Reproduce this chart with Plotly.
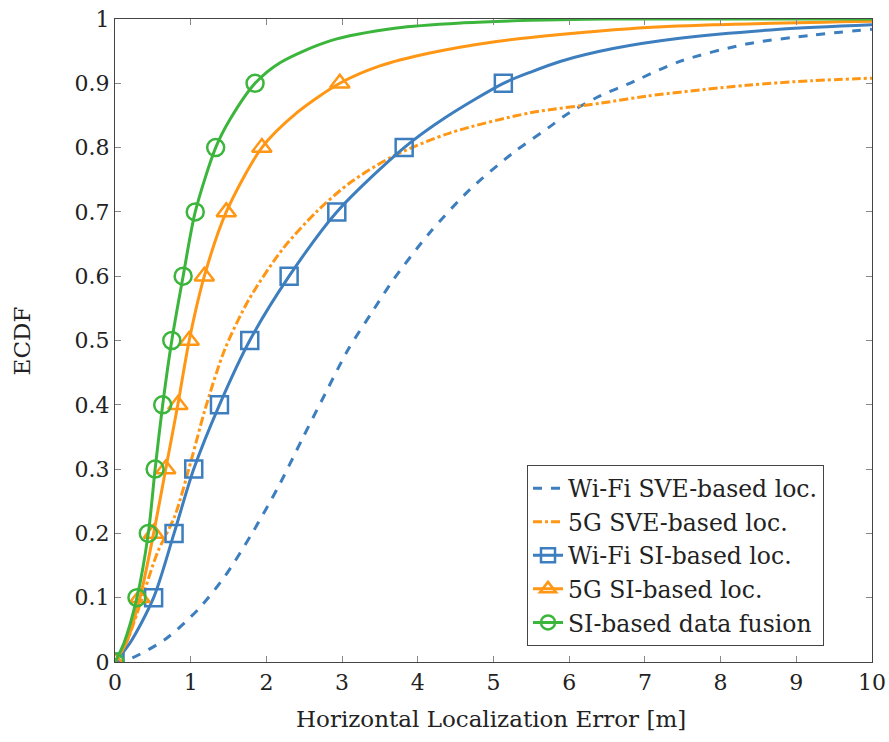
import plotly.graph_objects as go

# ECDF levels for SI-based curves (marker points)
levels = [0.0, 0.1, 0.2, 0.3, 0.4, 0.5, 0.6, 0.7, 0.8, 0.9]

# Wi-Fi SVE-based loc. (dashed blue)
wifi_sve_x = [0.0, 0.18, 0.66, 1.10, 1.45, 1.81, 2.16, 2.47, 2.78, 3.08, 3.40, 3.68, 4.16, 4.69, 5.26, 5.75, 5.97, 6.40, 6.80, 7.46, 8.34, 9.22, 10.0]
wifi_sve_y = [0.0, 0.004, 0.035, 0.082, 0.133, 0.20, 0.273, 0.346, 0.418, 0.486, 0.545, 0.595, 0.668, 0.735, 0.792, 0.833, 0.852, 0.88, 0.9, 0.934, 0.961, 0.975, 0.984]

# 5G SVE-based loc. (dash-dot orange)
g5_sve_x = [0.0, 0.15, 0.36, 0.56, 0.79, 1.01, 1.19, 1.45, 1.77, 2.22, 2.66, 3.10, 3.68, 4.43, 5.48, 6.41, 7.02, 8.34, 9.2, 10.0]
g5_sve_y = [0.0, 0.03, 0.1, 0.17, 0.227, 0.315, 0.393, 0.486, 0.564, 0.643, 0.7, 0.745, 0.787, 0.823, 0.854, 0.869, 0.88, 0.897, 0.904, 0.908]

# Wi-Fi SI-based loc. (solid blue, squares)
wifi_si_mx = [0.0, 0.51, 0.78, 1.04, 1.38, 1.78, 2.30, 2.93, 3.82, 5.13]
wifi_si_x = [0.0, 0.2, 0.51, 0.78, 1.04, 1.38, 1.78, 2.30, 2.93, 3.82, 4.38, 5.13, 5.48, 5.88, 6.58, 7.46, 8.78, 10.0]
wifi_si_y = [0.0, 0.03, 0.1, 0.2, 0.3, 0.4, 0.5, 0.6, 0.7, 0.8, 0.848, 0.9, 0.917, 0.934, 0.954, 0.97, 0.984, 0.991]

# 5G SI-based loc. (solid orange, triangles)
g5_si_mx = [0.0, 0.33, 0.51, 0.67, 0.83, 0.98, 1.18, 1.47, 1.94, 2.97]
g5_si_x = [0.0, 0.15, 0.33, 0.51, 0.67, 0.83, 0.98, 1.18, 1.47, 1.94, 2.40, 2.97, 3.50, 4.16, 5.04, 5.88, 6.8, 7.9, 10.0]
g5_si_y = [0.0, 0.03, 0.1, 0.2, 0.3, 0.4, 0.5, 0.6, 0.7, 0.8, 0.854, 0.9, 0.927, 0.947, 0.965, 0.976, 0.985, 0.991, 0.9965]

# SI-based data fusion (solid green, circles)
fusion_mx = [0.0, 0.29, 0.44, 0.53, 0.63, 0.75, 0.90, 1.06, 1.33, 1.85]
fusion_x = [0.0, 0.12, 0.29, 0.44, 0.53, 0.63, 0.75, 0.90, 1.06, 1.33, 1.52, 1.85, 2.18, 2.84, 3.72, 4.60, 5.5, 6.5, 10.0]
fusion_y = [0.0, 0.03, 0.1, 0.2, 0.3, 0.4, 0.5, 0.6, 0.7, 0.8, 0.844, 0.9, 0.932, 0.966, 0.986, 0.994, 0.998, 1.0, 1.0]

x_ticks = [0, 1, 2, 3, 4, 5, 6, 7, 8, 9, 10]
y_ticks = [0, 0.1, 0.2, 0.3, 0.4, 0.5, 0.6, 0.7, 0.8, 0.9, 1]
y_tick_labels = ["0", "0.1", "0.2", "0.3", "0.4", "0.5", "0.6", "0.7", "0.8", "0.9", "1"]

blue = "#3d7ebf"
orange = "#ff9614"
green = "#3cb53c"
font_family = "DejaVu Serif"

fig = go.Figure()

def add_curve(x, y, mx, name, color, dash, symbol, group):
    fig.add_trace(go.Scatter(
        x=x, y=y, mode="lines", line=dict(color=color, width=3, dash=dash, shape="spline", smoothing=0.8),
        showlegend=False, hoverinfo="skip"))
    if mx is None:
        fig.add_trace(go.Scatter(x=[None], y=[None], mode="lines",
                                 line=dict(color=color, width=3, dash=dash),
                                 name=name, legendgroup=group))
    else:
        fig.add_trace(go.Scatter(
            x=mx, y=levels, mode="markers",
            marker=dict(symbol=symbol, size=17, color=color,
                        line=dict(color=color, width=2.5)),
            showlegend=False))
        fig.add_trace(go.Scatter(
            x=[None], y=[None], mode="lines+markers", name=name, legendgroup=group,
            line=dict(color=color, width=3),
            marker=dict(symbol=symbol, size=14, color=color,
                        line=dict(color=color, width=2.5))))

add_curve(wifi_sve_x, wifi_sve_y, None, "Wi-Fi SVE-based loc.", blue, "dash", None, "g1")
add_curve(g5_sve_x, g5_sve_y, None, "5G SVE-based loc.", orange, "dashdot", None, "g2")
add_curve(wifi_si_x, wifi_si_y, wifi_si_mx, "Wi-Fi SI-based loc.", blue, "solid", "square-open", "g3")
add_curve(g5_si_x, g5_si_y, g5_si_mx, "5G SI-based loc.", orange, "solid", "triangle-up-open", "g4")
add_curve(fusion_x, fusion_y, fusion_mx, "SI-based data fusion", green, "solid", "circle-open", "g5")

axis_common = dict(
    showline=True, linecolor="#444", linewidth=1.2, mirror="ticks",
    ticks="inside", ticklen=6, tickcolor="#888", tickwidth=1,
    showgrid=False, zeroline=False, automargin=False,
    tickfont=dict(family=font_family, size=22, color="#222"),
)

fig.update_layout(
    width=889, height=742,
    margin=dict(l=115, r=17, t=19, b=80),
    paper_bgcolor="white", plot_bgcolor="white",
    font=dict(family=font_family, size=22, color="#222"),
    xaxis=dict(range=[0, 10], tickvals=x_ticks, ticktext=[str(v) for v in x_ticks], **axis_common),
    yaxis=dict(range=[0, 1], tickvals=y_ticks, ticktext=y_tick_labels, **axis_common),
    legend=dict(x=0.544, y=0.306, xanchor="left", yanchor="top",
                bordercolor="#444", borderwidth=1.2, bgcolor="white",
                font=dict(family=font_family, size=23.5, color="#222"),
                tracegroupgap=0),
    showlegend=True,
    annotations=[
        dict(text="Horizontal Localization Error [m]", xref="paper", yref="paper",
             x=0.497, y=-0.089, xanchor="center", yanchor="middle", showarrow=False,
             font=dict(family=font_family, size=23, color="#222")),
        dict(text="ECDF", xref="paper", yref="paper", textangle=-90,
             x=-0.123, y=0.5, xanchor="center", yanchor="middle", showarrow=False,
             font=dict(family=font_family, size=23, color="#222")),
    ],
)

fig.write_html("out.html")
